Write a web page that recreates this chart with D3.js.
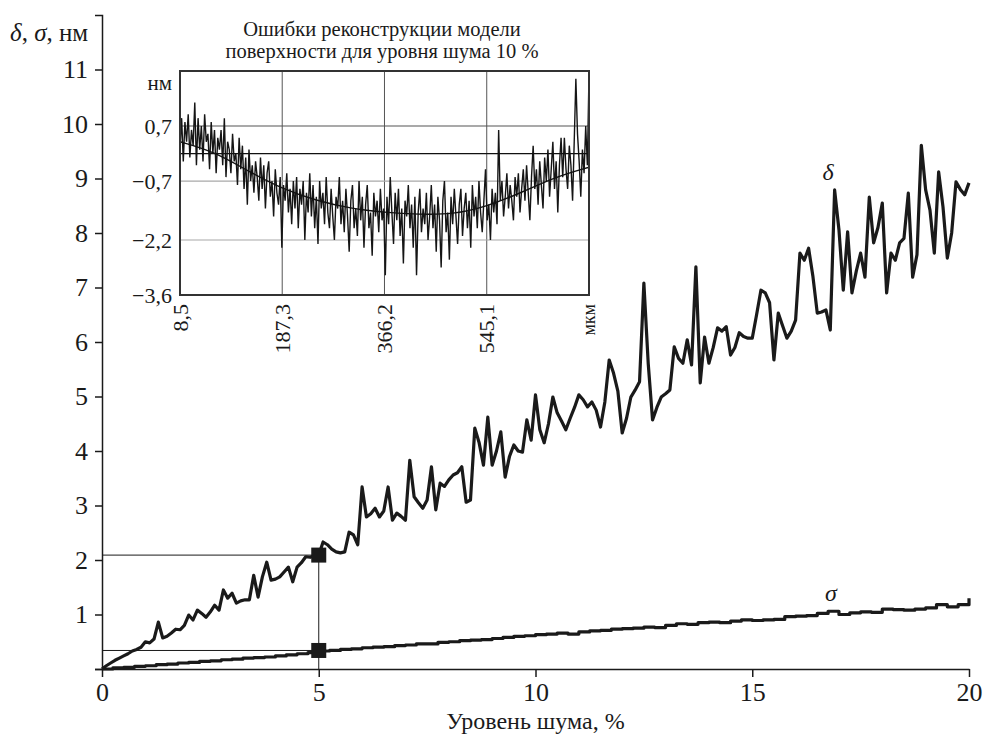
<!DOCTYPE html>
<html>
<head>
<meta charset="utf-8">
<script src="https://cdn.jsdelivr.net/npm/d3@7"></script>
<style>
  body { margin: 0; background: #fff; }
</style>
</head>
<body>
<div id="cont"></div>
<script>
// --- data ---
// delta, nm, sampled every 0.1 % of noise (0 .. 20)
var deltaStep = 0.1;
var deltaVals = [
  0, 0.06, 0.11, 0.16, 0.2, 0.24, 0.28, 0.33, 0.36, 0.4,
  0.5, 0.48, 0.55, 0.86, 0.57, 0.6, 0.66, 0.73, 0.72, 0.8,
  0.99, 0.9, 1.08, 1.02, 0.95, 1.05, 1.17, 1.08, 1.45, 1.3,
  1.39, 1.21, 1.25, 1.27, 1.27, 1.72, 1.32, 1.69, 1.96, 1.63,
  1.65, 1.69, 1.78, 1.87, 1.6, 1.87, 1.95, 2.06, 2.05, 2.08,
  2.09, 2.33, 2.28, 2.2, 2.15, 2.13, 2.15, 2.51, 2.46, 2.28,
  3.34, 2.79, 2.85, 2.95, 2.79, 2.9, 3.34, 2.73, 2.86, 2.8,
  2.73, 3.83, 3.16, 3.05, 2.95, 3.1, 3.71, 2.92, 3.41, 3.35,
  3.47, 3.56, 3.6, 3.71, 3.06, 3.1, 4.42, 4.15, 3.74, 4.62,
  3.74, 4.0, 4.35, 3.52, 3.9, 4.11, 4.0, 3.98, 4.57, 4.2,
  5.03, 4.39, 4.15, 4.5, 4.99, 4.7, 4.55, 4.39, 4.6, 4.8,
  5.03, 4.94, 4.81, 4.9, 4.75, 4.44, 4.9, 5.67, 5.43, 5.1,
  4.33, 4.6, 4.99, 5.12, 5.27, 7.08, 5.61, 4.57, 4.8, 4.99,
  5.05, 5.12, 5.91, 5.7, 5.61, 6.04, 5.58, 7.38, 5.25, 6.09,
  5.61, 5.9, 6.26, 6.2, 6.28, 5.76, 5.9, 6.17, 6.1, 6.07,
  6.07, 6.5, 6.95, 6.9, 6.72, 5.67, 6.53, 6.3, 6.07, 6.2,
  6.4, 7.63, 7.5, 7.72, 7.2, 6.53, 6.55, 6.59, 6.22, 8.79,
  8.06, 6.95, 8.02, 6.9, 7.3, 7.63, 7.19, 8.66, 7.82, 8.1,
  8.55, 6.9, 7.63, 7.5, 7.82, 7.9, 8.73, 7.19, 7.6, 9.61,
  8.79, 8.42, 7.63, 9.12, 8.48, 7.54, 8.0, 8.94, 8.8, 8.7,
  8.92
];

// sigma, nm, sampled every 0.25 %
var sigmaStep = 0.25;
var sigmaVals = [
  0.00, 0.02, 0.03, 0.05,
  0.06, 0.08, 0.09, 0.11,
  0.12, 0.14, 0.15, 0.17,
  0.18, 0.20, 0.21, 0.22,
  0.24, 0.26, 0.28, 0.30,
  0.33, 0.34, 0.36, 0.37,
  0.39, 0.40, 0.41, 0.43,
  0.44, 0.46, 0.46, 0.49,
  0.50, 0.52, 0.53, 0.54,
  0.56, 0.58, 0.60, 0.61,
  0.63, 0.64, 0.66, 0.64,
  0.68, 0.70, 0.71, 0.73,
  0.74, 0.75, 0.77, 0.76,
  0.80, 0.83, 0.82, 0.85,
  0.86, 0.85, 0.88, 0.90,
  0.89, 0.90, 0.91, 0.96,
  0.97, 0.98, 1.02, 1.06,
  1.00, 1.03, 1.05, 1.04,
  1.10, 1.09, 1.08, 1.10,
  1.12, 1.18, 1.14, 1.18,
  1.30
];

// the two marked points at 5 %
var markerX = [5, 5];
var markerY = [2.09, 0.34];

var xTicks = [0, 5, 10, 15, 20];
var yTicks = [0, 1, 2, 3, 4, 5, 6, 7, 8, 9, 10, 11];

// inset: reconstruction error along the profile, 10 % noise
var insetRange = [8.5, 724];
var insetXTicks = [8.5, 187.3, 366.2, 545.1];
var insetYTicks = [0.7, -0.7, -2.2, -3.6];
var insetSignal = [
  0.1, 0.9, -0.2, 0.8, 0.3, 1.0, -0.1, 0.6, 0.2, 1.3,
  -0.3, 0.9, 0.1, 0.7, -0.2, 1.0, 0.3, 0.5, -0.4, 0.8,
  0.0, 0.6, -0.5, 0.4, 0.1, 0.6, -0.3, 0.9, -0.6, 0.3,
  0.1, -0.5, 0.5, -0.2, 0.0, -0.8, 0.4, -0.4, 0.2, -0.9,
  -0.1, -1.3, 0.1, -0.7, -0.3, -1.0, -0.2, -0.6, -1.2, -0.1,
  -0.9, -0.3, -1.4, -0.5, -0.2, -1.1, -0.7, -1.6, -0.4, -1.0,
  -1.3, -0.6, -2.4, -0.8, -1.2, -0.5, -1.5, -0.9, -1.8, -0.7,
  -1.4, -0.6, -1.9, -0.9, -1.3, -0.7, -2.2, -1.0, -1.5, -0.5,
  -1.6, -0.8, -1.9, -1.1, -2.3, -0.7, -1.4, -1.0, -1.8, -0.6,
  -1.5, -1.9, -0.9, -1.6, -2.2, -1.1, -1.4, -0.6, -1.8, -1.2,
  -2.0, -0.9, -1.6, -2.5, -1.2, -0.8, -1.9, -1.4, -2.1, -0.7,
  -1.7, -1.1, -2.4, -1.3, -0.8, -1.9, -1.5, -2.6, -1.0, -1.6,
  -1.2, -2.0, -0.9, -1.7, -1.4, -3.1, -1.1, -1.8, -0.6, -1.5,
  -2.3, -1.0, -1.7, -0.9, -2.1, -1.4, -2.8, -1.2, -1.6, -0.8,
  -1.9, -1.3, -2.4, -1.1, -3.1, -1.5, -0.9, -2.0, -1.4, -1.8,
  -1.0, -2.2, -1.6, -0.8, -1.9, -1.3, -2.5, -1.1, -1.7, -2.9,
  -1.2, -0.7, -2.0, -1.5, -2.7, -1.1, -1.8, -0.9, -1.6, -2.3,
  -1.3, -0.9, -2.1, -1.4, -1.0, -1.9, -1.2, -2.4, -0.8, -1.6,
  -1.1, -1.9, -0.7, -1.5, -2.0, -1.2, -0.4, -1.7, -1.3, -2.2,
  -0.9, -1.5, -1.0, -1.8, 0.6, -1.2, -0.7, -1.6, -1.1, -0.5,
  -1.4, -0.8, -1.2, -1.7, -0.6, -1.1, -0.5, -1.5, -0.9, -0.4,
  -1.2, -0.3, -1.0, -1.7, -0.6, 0.2, -0.9, -0.4, -1.3, -0.2,
  -0.8, -1.4, -0.1, -0.7, 0.1, -1.1, -0.4, 0.3, -0.9, -0.2,
  -1.5, -0.3, 0.4, -0.6, 0.4, -0.4, -0.9, 0.2, -0.3, -1.2,
  0.3, 1.9, 0.5, -0.2, -1.1, 0.1, -0.5, 0.7, -0.3, 2.0
];
// smooth trend drawn over the noisy signal
var trendX = [8.5, 68, 128, 187.3, 247, 307, 366.2, 426, 486, 545.1, 605, 664, 724];
var trendY = [0.3, 0.05, -0.45, -0.9, -1.2, -1.4, -1.5, -1.55, -1.55, -1.35, -1.0, -0.6, -0.35];

var FONT = '"Liberation Serif", "DejaVu Serif", "Times New Roman", serif';
var ink = "#1a1a1a";

// --- svg ---
var svg = d3.select("#cont").append("svg")
    .attr("width", 985)
    .attr("height", 736)
    .style("font-family", FONT);

var x = d3.scaleLinear().domain([0, 20]).range([102, 969]);
var y = d3.scaleLinear().domain([0, 12]).range([669, 15]);

// axes
svg.append("g")
    .attr("transform", "translate(" + x(0) + ",0)")
    .call(d3.axisLeft(y).tickValues(yTicks).tickSize(7).tickSizeOuter(7).tickPadding(7)
        .tickFormat(function(d) { return d === 0 ? "" : d; }));

svg.append("g")
    .attr("transform", "translate(0," + y(0) + ")")
    .call(d3.axisBottom(x).tickValues(xTicks).tickSize(8).tickSizeOuter(0).tickPadding(6));

svg.selectAll(".domain, .tick line")
    .attr("stroke", ink)
    .attr("stroke-width", 1.5);
svg.selectAll(".tick text")
    .attr("font-size", 26)
    .attr("fill", ink);

// axis titles
var yTitle = svg.append("text")
    .attr("x", 10)
    .attr("y", 41)
    .attr("font-size", 25);
yTitle.append("tspan").attr("font-style", "italic").text("δ");
yTitle.append("tspan").text(", ");
yTitle.append("tspan").attr("font-style", "italic").text("σ");
yTitle.append("tspan").text(", нм");

svg.append("text")
    .attr("x", x(10))
    .attr("y", 729)
    .attr("text-anchor", "middle")
    .attr("font-size", 24)
    .text("Уровень шума, %");

// reference lines through the marked points
svg.append("path")
    .attr("fill", "none")
    .attr("stroke", ink)
    .attr("stroke-width", 1)
    .attr("d", "M" + x(0) + "," + y(markerY[0]) + "H" + x(markerX[0]) + "V" + y(0) +
               "M" + x(0) + "," + y(markerY[1]) + "H" + x(markerX[1]));

// curves
var deltaLine = d3.line()
    .x(function(d, i) { return x(i * deltaStep); })
    .y(function(d) { return y(d); });

var sigmaLine = d3.line()
    .x(function(d, i) { return x(i * sigmaStep); })
    .y(function(d) { return y(d); })
    .curve(d3.curveStepAfter);

svg.append("path")
    .datum(deltaVals)
    .attr("fill", "none")
    .attr("stroke", ink)
    .attr("stroke-width", 3.2)
    .attr("stroke-linejoin", "round")
    .attr("d", deltaLine);

svg.append("path")
    .datum(sigmaVals)
    .attr("fill", "none")
    .attr("stroke", ink)
    .attr("stroke-width", 3.2)
    .attr("stroke-linejoin", "round")
    .attr("d", sigmaLine);

svg.selectAll("rect.marker")
    .data(markerY)
    .enter().append("rect")
    .attr("class", "marker")
    .attr("x", function(d, i) { return x(markerX[i]) - 7.5; })
    .attr("y", function(d) { return y(d) - 7.5; })
    .attr("width", 15)
    .attr("height", 15)
    .attr("fill", ink);

// curve labels
svg.append("text")
    .attr("x", 828).attr("y", 180)
    .attr("text-anchor", "middle")
    .attr("font-size", 24)
    .attr("font-style", "italic")
    .text("δ");
svg.append("text")
    .attr("x", 831).attr("y", 601)
    .attr("text-anchor", "middle")
    .attr("font-size", 24)
    .attr("font-style", "italic")
    .text("σ");

// --- inset ---
var ix = d3.scaleLinear().domain(insetRange).range([180, 589]);
var iy = d3.scaleLinear().domain([-3.6, 2.1]).range([295, 71]);
var idx = d3.scaleLinear().domain([0, insetSignal.length - 1]).range(insetRange);
var comma = function(v) { return d3.format(".1f")(v).replace(".", ",").replace("-", "−"); };

var inset = svg.append("g");

inset.append("rect")
    .attr("x", ix(insetRange[0])).attr("y", iy(2.1))
    .attr("width", ix(insetRange[1]) - ix(insetRange[0]))
    .attr("height", iy(-3.6) - iy(2.1))
    .attr("fill", "#fff");

inset.selectAll("line.vgrid")
    .data(insetXTicks.slice(1))
    .enter().append("line")
    .attr("x1", function(d) { return ix(d); })
    .attr("x2", function(d) { return ix(d); })
    .attr("y1", iy(2.1)).attr("y2", iy(-3.6))
    .attr("stroke", "#555").attr("stroke-width", 1);

inset.selectAll("line.hgrid")
    .data(insetYTicks.slice(0, 3))
    .enter().append("line")
    .attr("x1", ix(insetRange[0])).attr("x2", ix(insetRange[1]))
    .attr("y1", function(d) { return iy(d); })
    .attr("y2", function(d) { return iy(d); })
    .attr("stroke", function(d) { return d > 0 ? "#555" : "#a8a8a8"; })
    .attr("stroke-width", 1.2);

inset.append("path")
    .datum(insetSignal)
    .attr("fill", "none")
    .attr("stroke", "#151515")
    .attr("stroke-width", 1.4)
    .attr("d", d3.line()
        .x(function(d, i) { return ix(idx(i)); })
        .y(function(d) { return iy(d); }));

inset.append("path")
    .datum(trendY)
    .attr("fill", "none")
    .attr("stroke", "#111")
    .attr("stroke-width", 1.4)
    .attr("d", d3.line()
        .x(function(d, i) { return ix(trendX[i]); })
        .y(function(d) { return iy(d); })
        .curve(d3.curveBasis));

// zero line
inset.append("line")
    .attr("x1", ix(insetRange[0])).attr("x2", ix(insetRange[1]))
    .attr("y1", iy(0)).attr("y2", iy(0))
    .attr("stroke", "#111").attr("stroke-width", 1.3);

inset.append("rect")
    .attr("x", ix(insetRange[0])).attr("y", iy(2.1))
    .attr("width", ix(insetRange[1]) - ix(insetRange[0]))
    .attr("height", iy(-3.6) - iy(2.1))
    .attr("fill", "none")
    .attr("stroke", "#333")
    .attr("stroke-width", 2);

inset.selectAll("text.iylab")
    .data(insetYTicks)
    .enter().append("text")
    .attr("x", 172)
    .attr("y", function(d) { return iy(d); })
    .attr("dy", "0.35em")
    .attr("text-anchor", "end")
    .attr("font-size", 22)
    .text(comma);

inset.append("text")
    .attr("x", 172).attr("y", 90)
    .attr("text-anchor", "end")
    .attr("font-size", 21)
    .text("нм");

inset.selectAll("text.ixlab")
    .data(insetXTicks)
    .enter().append("text")
    .attr("transform", function(d) { return "translate(" + ix(d) + ",304) rotate(-90)"; })
    .attr("dy", "0.35em")
    .attr("text-anchor", "end")
    .attr("font-size", 22)
    .text(comma);

inset.append("text")
    .attr("transform", "translate(" + ix(insetRange[1]) + ",304) rotate(-90)")
    .attr("dy", "0.35em")
    .attr("text-anchor", "end")
    .attr("font-size", 18)
    .text("мкм");

inset.append("text")
    .attr("x", 382).attr("y", 36)
    .attr("text-anchor", "middle")
    .attr("font-size", 20.5)
    .text("Ошибки реконструкции модели");
inset.append("text")
    .attr("x", 382).attr("y", 58)
    .attr("text-anchor", "middle")
    .attr("font-size", 20.5)
    .text("поверхности для уровня шума 10 %");

// serif everywhere, overriding the axis defaults
svg.selectAll("text")
    .style("font-family", FONT)
    .style("fill", ink);
</script>
</body>
</html>
